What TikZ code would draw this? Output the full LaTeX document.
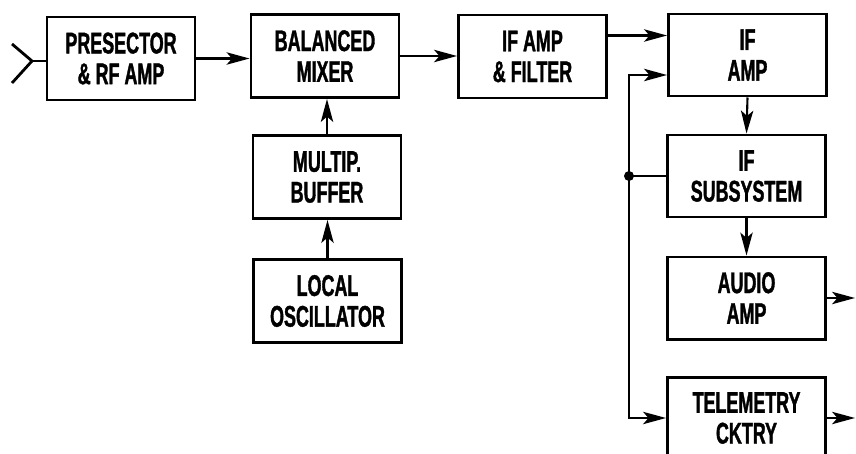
\documentclass[tikz,border=0pt]{standalone}
\usepackage{fontspec}
\usepackage{tikz}
\usetikzlibrary{arrows.meta}
\newfontfamily\blockfont{Liberation Sans}[FakeStretch=0.6,FakeBold=1.2]

\begin{document}
\begin{tikzpicture}[
  font=\blockfont\bfseries\fontsize{17}{17.5}\selectfont,
  blk/.style={draw,line width=1.7pt,align=center,inner sep=0pt,minimum width=2.96cm,minimum height=1.66cm},
  rblk/.style={blk,minimum width=3.16cm,minimum height=1.64cm},
  wire/.style={line width=1.2pt},
  flow/.style={wire,-{Stealth[length=13pt,width=7pt,inset=3pt]}}]
  \useasboundingbox (0,0) rectangle (17.12,-9.06);
  \clip (0,0) rectangle (17.12,-9.06);
  \node[blk] (pre) at (2.42,-1.17) {PRESECTOR\\\& RF AMP};
  \node[blk] (mix) at (6.50,-1.12) {BALANCED\\MIXER};
  \node[blk] (filt) at (10.65,-1.13) {IF AMP\\\& FILTER};
  \node[blk] (buf) at (6.54,-3.54) {MULTIP.\\BUFFER};
  \node[blk] (osc) at (6.55,-6.02) {LOCAL\\OSCILLATOR};
  \node[rblk] (ifamp) at (14.95,-1.10) {IF\\AMP};
  \node[rblk] (subsys) at (14.93,-3.52) {IF\\SUBSYSTEM};
  \node[rblk] (audio) at (14.93,-5.96) {AUDIO\\AMP};
  \node[rblk] (telem) at (14.93,-8.36) {TELEMETRY\\CKTRY};
  \coordinate (ant) at (0.64,-1.22);
  \draw[line width=1.6pt] (0.24,-0.88) -- (ant) -- (0.24,-1.66);
  \draw[wire] (ant) -- (ant -| pre.west);
  \draw[flow] (pre.east) -- (pre.east -| mix.west);
  \draw[flow] (mix.east) -- (mix.east -| filt.west);
  \coordinate (fo) at ([yshift=0.42cm]filt.east);
  \draw[flow] (fo) -- (fo -| ifamp.west);
  \draw[flow] (osc.north) -- (osc.north |- buf.south);
  \draw[flow] (buf.north) -- (buf.north |- mix.south);
  \draw[flow] (ifamp.south) -- (subsys.north);
  \draw[flow] (subsys.south) -- (audio.north);
  \coordinate (jn) at ([xshift=-0.74cm]subsys.west);
  \coordinate (fb) at ([yshift=-0.4cm]ifamp.west);
  \draw[wire] (subsys.west) -- (jn);
  \draw[flow] (jn) |- (fb);
  \draw[flow] (jn) |- (telem.west);
  \fill (jn) circle (0.1);
  \coordinate (aout) at (17.1,0 |- audio.east);
  \coordinate (tout) at (17.1,0 |- telem.east);
  \draw[flow] (audio.east) -- (aout);
  \draw[flow] (telem.east) -- (tout);
\end{tikzpicture}
\end{document}
